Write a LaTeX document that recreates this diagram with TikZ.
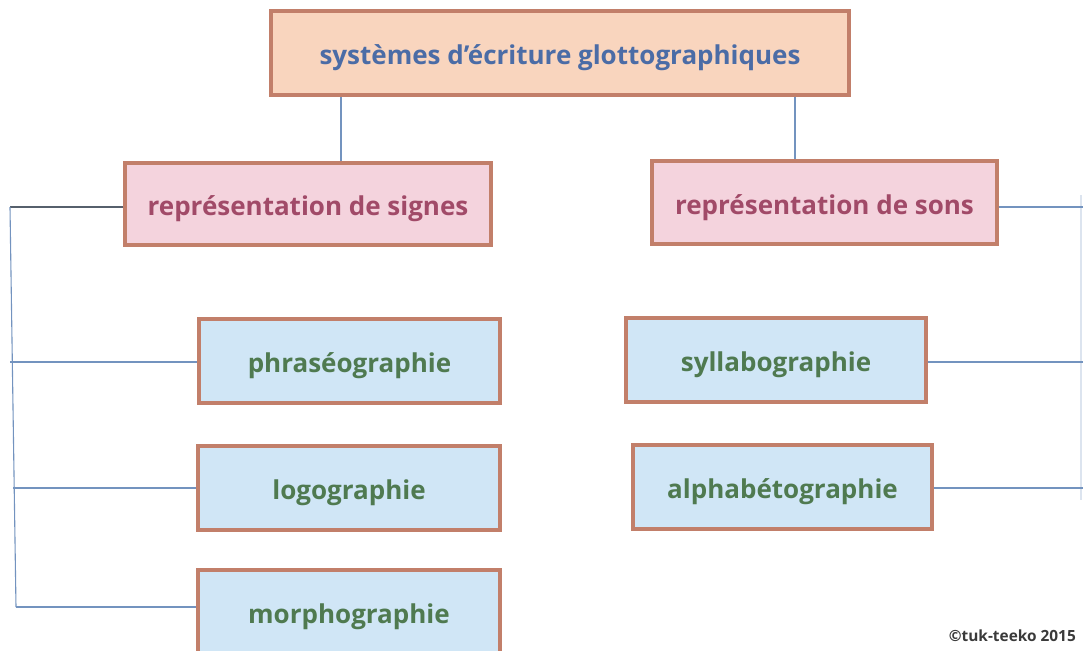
\documentclass[tikz,border=0pt]{standalone}
\usepackage{fontspec}
\setmainfont{Open Sans}
\definecolor{rootfill}{HTML}{F9D5BE}
\definecolor{roottext}{HTML}{4B6CA6}
\definecolor{midfill}{HTML}{F4D3DD}
\definecolor{midtext}{HTML}{A14A68}
\definecolor{leaffill}{HTML}{D0E6F6}
\definecolor{leaftext}{HTML}{4F7A50}
\definecolor{boxedge}{HTML}{C27F6A}
\definecolor{linkblue}{HTML}{7393BF}
\definecolor{linkgray}{HTML}{56606C}
\definecolor{marktext}{HTML}{3A3A3A}
% lower the label a little inside its box, keeping the box itself centred
\newcommand{\boxlabel}[1]{\raisebox{-5pt}[\height][\depth]{#1}}
\tikzset{
  box/.style={draw=boxedge, line width=3.2pt, rectangle, inner sep=0pt, font=\bfseries\fontsize{26}{30}\selectfont},
  rootbox/.style={box, fill=rootfill, text=roottext},
  midbox/.style={box, fill=midfill, text=midtext},
  leafbox/.style={box, fill=leaffill, text=leaftext},
  link/.style={draw=linkblue, line width=1.1pt},
  darklink/.style={draw=linkgray, line width=1.1pt},
}
\begin{document}
\begin{tikzpicture}[x=1pt, y=-1pt]
\useasboundingbox (0,0) rectangle (1083,650);

% hierarchy boxes
\node[rootbox, minimum width=578pt, minimum height=84pt] (root) at (560,53) {\boxlabel{systèmes d’écriture glottographiques}};
\node[midbox, minimum width=366pt, minimum height=82pt] (signes) at (308,204) {\boxlabel{représentation de signes}};
\node[midbox, minimum width=345pt, minimum height=83pt] (sons) at (824.5,202.5) {\boxlabel{représentation de sons}};
\node[leafbox, minimum width=301pt, minimum height=84pt] (phrase) at (349.5,361) {\boxlabel{phraséographie}};
\node[leafbox, minimum width=302pt, minimum height=84pt] (logo) at (349,488) {\boxlabel{logographie}};
\node[leafbox, minimum width=302pt, minimum height=84pt] (morpho) at (349,612) {\boxlabel{morphographie}};
\node[leafbox, minimum width=300pt, minimum height=84pt] (syllabo) at (776,360) {\boxlabel{syllabographie}};
\node[leafbox, minimum width=299pt, minimum height=84pt] (alpha) at (782.5,487) {\boxlabel{alphabétographie}};

\node[anchor=base east, text=marktext, font=\bfseries\fontsize{15.4}{18}\selectfont, inner sep=0pt] (mark) at (1076,641) {©tuk-teeko 2015};

% connector helper points
\coordinate (xl) at (341,0);
\coordinate (xr) at (795,0);
\coordinate (trunktop) at (10,207);
\coordinate (trunkbot) at (16,607);
\coordinate (b1) at (10,362);
\coordinate (b2) at (13,488);
\coordinate (b3) at (16,607);
\coordinate (edge0) at (1083,207);
\coordinate (edge1) at (1083,362);
\coordinate (edge2) at (1083,488);
\coordinate (edgetop) at (1081,195);
\coordinate (edgebot) at (1081,500);

% connectors
\draw[link] (root.south -| xl) -- (signes.north -| xl);
\draw[link] (root.south -| xr) -- (sons.north -| xr);
\draw[darklink] (signes.west |- trunktop) -- (trunktop);
\draw[link] (trunktop) -- (trunkbot);
\draw[link] (b1) -- (phrase.west |- b1);
\draw[link] (b2) -- (logo.west |- b2);
\draw[link] (b3) -- (morpho.west |- b3);
\draw[link] (sons.east |- edge0) -- (edge0);
\draw[link] (syllabo.east |- edge1) -- (edge1);
\draw[link] (alpha.east |- edge2) -- (edge2);
\draw[link, draw opacity=0.25] (edgetop) -- (edgebot);
\end{tikzpicture}
\end{document}
